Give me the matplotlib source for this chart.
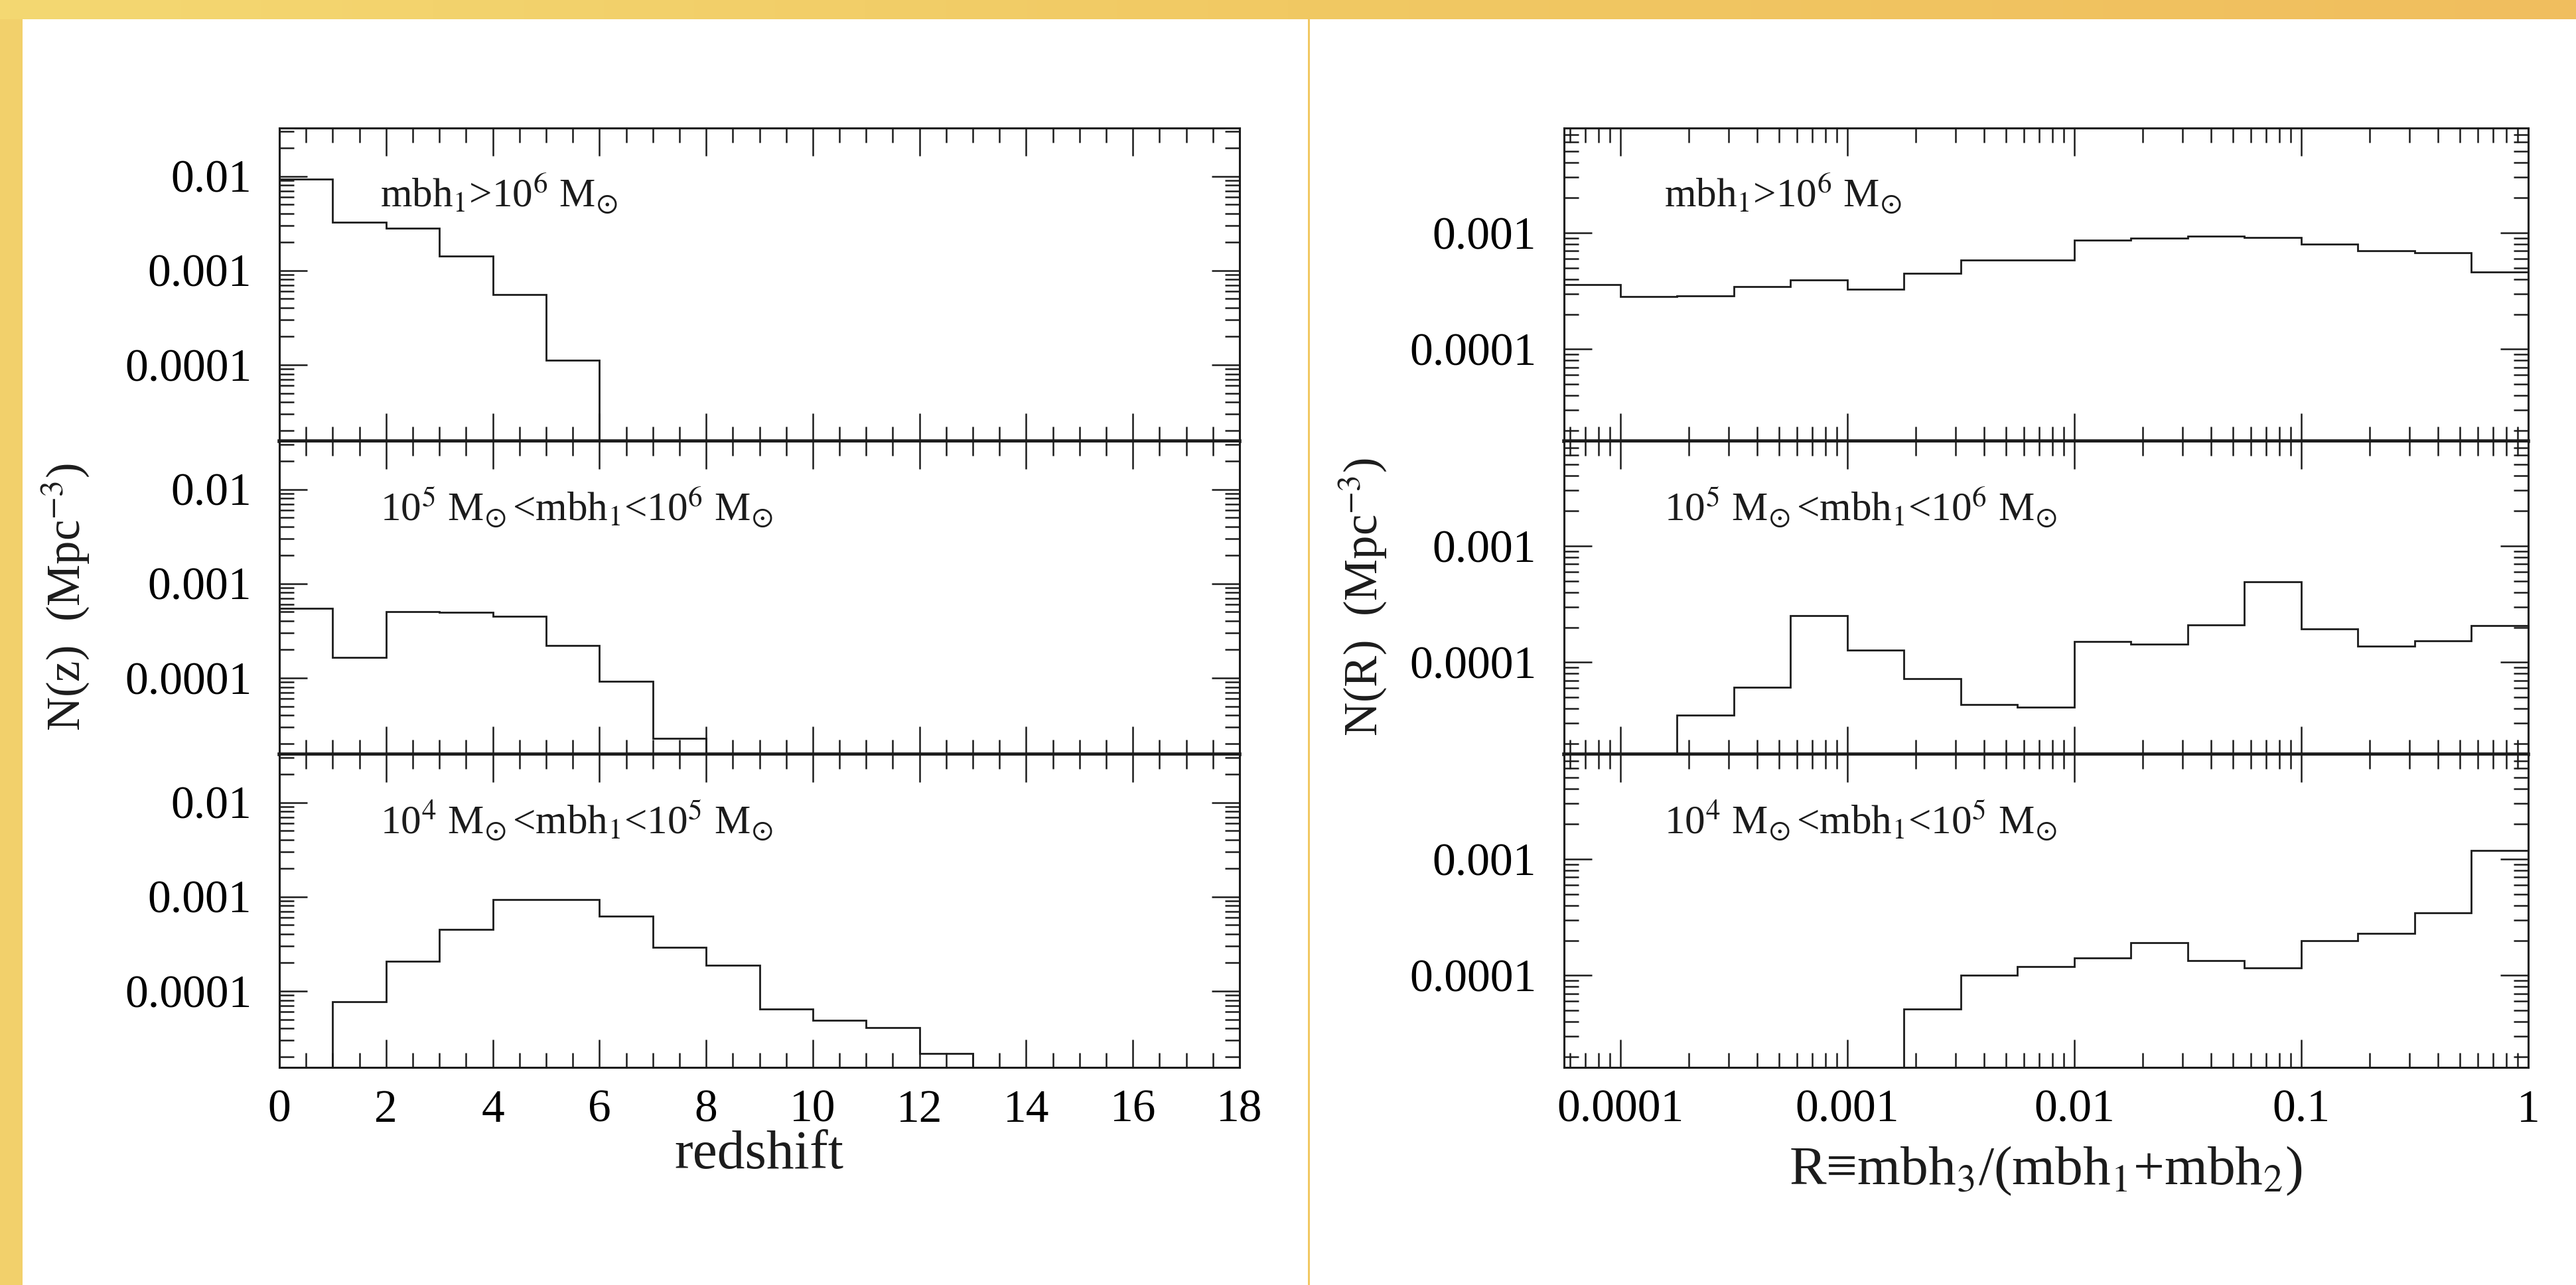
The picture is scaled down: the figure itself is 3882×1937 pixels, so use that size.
import numpy as np
import matplotlib
matplotlib.use("Agg")
import matplotlib.pyplot as plt
from matplotlib.ticker import MultipleLocator, LogLocator, FuncFormatter, NullFormatter
from matplotlib.patches import Rectangle
from matplotlib.colors import LinearSegmentedColormap

plt.rcParams['font.family'] = ['Liberation Serif', 'DejaVu Serif']
plt.rcParams['mathtext.fontset'] = 'stix'

# ---------------- data ----------------
# redshift histograms: bins of width 1 from 0 to 18
z_edges = [0, 1, 2, 3, 4, 5, 6, 7, 8, 9, 10, 11, 12, 13, 14, 15, 16, 17, 18]
nz_high = [0.0093, 0.00326, 0.00279, 0.00141, 0.000556, 0.000112, 0, 0, 0,
           0, 0, 0, 0, 0, 0, 0, 0, 0]
nz_mid = [0.00055, 0.000164, 0.000501, 0.000496, 0.00045, 0.00022, 9.2e-5, 2.28e-5, 0,
          0, 0, 0, 0, 0, 0, 0, 0, 0]
nz_low = [0, 7.67e-5, 0.000207, 0.000452, 0.00093, 0.00093, 0.000623, 0.00029, 0.000188,
          6.4e-5, 4.89e-5, 4.08e-5, 2.19e-5, 0, 0, 0, 0, 0]

# mass-ratio histograms: bins of 0.25 dex in log10(R)
logR_edges = [-4.25, -4.0, -3.75, -3.5, -3.25, -3.0, -2.75, -2.5, -2.25,
              -2.0, -1.75, -1.5, -1.25, -1.0, -0.75, -0.5, -0.25, 0.0]
nr_high = [3.61e-4, 2.84e-4, 2.88e-4, 3.47e-4, 3.96e-4, 3.27e-4, 4.51e-4, 5.81e-4, 5.86e-4,
           8.63e-4, 9.0e-4, 9.33e-4, 9.16e-4, 7.98e-4, 7.01e-4, 6.70e-4, 4.61e-4]
nr_mid = [0, 0, 3.52e-5, 6.09e-5, 2.53e-4, 1.28e-4, 7.26e-5, 4.35e-5, 4.14e-5,
          1.51e-4, 1.44e-4, 2.10e-4, 4.9e-4, 1.94e-4, 1.38e-4, 1.53e-4, 2.08e-4]
nr_low = [0, 0, 0, 0, 0, 0, 5.16e-5, 1.0e-4, 1.19e-4,
          1.41e-4, 1.91e-4, 1.35e-4, 1.16e-4, 2.0e-4, 2.29e-4, 3.45e-4, 1.19e-3]

panel_labels = [r'mbh$_1$>10$^6$ M$_{\!\odot}$',
                r'10$^5$ M$_{\!\odot}$<mbh$_1$<10$^6$ M$_{\!\odot}$',
                r'10$^4$ M$_{\!\odot}$<mbh$_1$<10$^5$ M$_{\!\odot}$']
left_ylabel = r'N(z)  (Mpc$^{-3}$)'
right_ylabel = r'N(R)  (Mpc$^{-3}$)'
left_xlabel = 'redshift'
right_xlabel = r'R≡mbh$_3$/(mbh$_1$+mbh$_2$)'

# ---------------- figure ----------------
W, H = 3882, 1937
DPI = 200
fig = plt.figure(figsize=(W / DPI, H / DPI), dpi=DPI, facecolor='white')

# decorative frame
bg = fig.add_axes([0, 1 - 29 / H, 1, 29 / H], zorder=-5)
grad = np.linspace(0, 1, 256)[None, :]
cm = LinearSegmentedColormap.from_list('band', ['#F4D872', '#F1C963', '#F0BE5E'])
bg.imshow(grad, aspect='auto', cmap=cm, extent=[0, 1, 0, 1])
bg.set_axis_off()
fig.patches.append(Rectangle((0, 0), 34 / W, 1, transform=fig.transFigure,
                             facecolor='#F2D06B', edgecolor='none', zorder=-6))
fig.patches.append(Rectangle((1971 / W, 0), 3 / W, 1, transform=fig.transFigure,
                             facecolor='#F2C862', edgecolor='none', zorder=-6))

FS_TICK = 25
FS_ANN = 22
FS_XLAB = 30
FS_YLAB = 25.5
LC = '#1c1c1c'
ph = 472 / H
y_bottom = 1 - 1609 / H
left_x0, left_w = 421 / W, (1868 - 421) / W
right_x0, right_w = 2357 / W, (3810 - 2357) / W


def fmt(v, p):
    return f'{v:.10f}'.rstrip('0').rstrip('.')


def style(ax, is_bottom):
    ax.tick_params(which='both', direction='in', top=True, right=True,
                   labelsize=FS_TICK, width=0.9, color=LC)
    ax.tick_params(which='major', length=15)
    ax.tick_params(which='minor', length=7.8)
    ax.tick_params(axis='x', pad=12)
    ax.tick_params(axis='y', pad=15)
    for s in ax.spines.values():
        s.set_linewidth(1.1)
        s.set_color(LC)
    if not is_bottom:
        ax.tick_params(labelbottom=False)
        ax.spines['bottom'].set_linewidth(2.0)


left_data = [nz_high, nz_mid, nz_low]
right_data = [nr_high, nr_mid, nr_low]

for i in range(3):
    y0 = y_bottom + (2 - i) * ph
    is_bottom = (i == 2)

    # ---- left: redshift ----
    ax = fig.add_axes([left_x0, y0, left_w, ph])
    vals = np.array(left_data[i], dtype=float)
    ax.stairs(np.where(vals > 0, vals, 1e-12), z_edges, color=LC, lw=1.0)
    ax.set_yscale('log')
    ax.set_xlim(0, 18)
    ax.set_ylim(10 ** -4.81, 10 ** -1.49)
    ax.xaxis.set_major_locator(MultipleLocator(2))
    ax.xaxis.set_minor_locator(MultipleLocator(0.5))
    ax.yaxis.set_major_locator(LogLocator(base=10, subs=(1.0,), numticks=20))
    ax.yaxis.set_minor_locator(LogLocator(base=10, subs=np.arange(2, 10), numticks=20))
    ax.yaxis.set_major_formatter(FuncFormatter(fmt))
    ax.yaxis.set_minor_formatter(NullFormatter())
    ax.xaxis.set_major_formatter(FuncFormatter(lambda v, p: f'{v:.0f}'))
    style(ax, is_bottom)
    ax.text(0.105, 0.747, panel_labels[i], transform=ax.transAxes, fontsize=FS_ANN,
            ha='left', va='baseline', color=LC)

    # ---- right: mass ratio ----
    ax2 = fig.add_axes([right_x0, y0, right_w, ph])
    vals = np.array(right_data[i], dtype=float)
    edges = 10.0 ** np.array(logR_edges)
    ax2.stairs(np.where(vals > 0, vals, 1e-12), edges, color=LC, lw=1.0)
    ax2.set_xscale('log')
    ax2.set_yscale('log')
    ax2.set_xlim(10 ** -4.248, 1)
    ax2.set_ylim(10 ** -4.79, 10 ** -2.1)
    for axis in (ax2.xaxis, ax2.yaxis):
        axis.set_major_locator(LogLocator(base=10, subs=(1.0,), numticks=20))
        axis.set_minor_locator(LogLocator(base=10, subs=np.arange(2, 10), numticks=20))
        axis.set_major_formatter(FuncFormatter(fmt))
        axis.set_minor_formatter(NullFormatter())
    style(ax2, is_bottom)
    ax2.text(0.104, 0.747, panel_labels[i], transform=ax2.transAxes, fontsize=FS_ANN,
             ha='left', va='baseline', color=LC)

fig.text(98 / W, 1 - 900 / H, left_ylabel, rotation=90, ha='center', va='center',
         fontsize=FS_YLAB, color=LC)
fig.text(2053 / W, 1 - 900 / H, right_ylabel, rotation=90, ha='center', va='center',
         fontsize=FS_YLAB, color=LC)
fig.text(1144 / W, 1 - 1741 / H, left_xlabel, ha='center', va='center',
         fontsize=FS_XLAB, color=LC)
fig.text(3083 / W, 1 - 1765 / H, right_xlabel, ha='center', va='center',
         fontsize=FS_XLAB, color=LC)

fig.savefig('out.png', dpi=DPI, facecolor='white')
